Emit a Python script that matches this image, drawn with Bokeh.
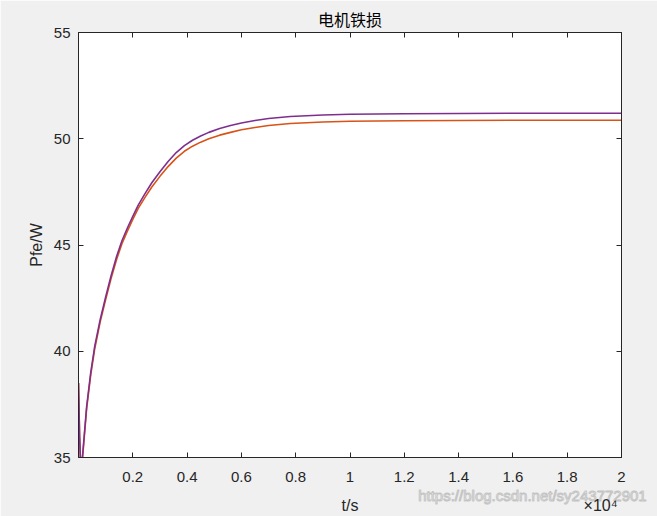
from bokeh.plotting import figure
from bokeh.models import LinearAxis, Range1d, FixedTicker
from bokeh.embed import file_html
from bokeh.resources import INLINE

# ---- data ----
t_s = [0, 40, 80, 144, 300, 450, 600, 800, 1000, 1200, 1400, 1600, 1800,
       2000, 2200, 2450, 2700, 3000, 3300, 3600, 3900, 4200, 4500, 4800,
       5200, 5600, 6000, 6500, 7000, 7800, 9000, 10000, 12000, 14000, 16000,
       18000, 20000]
pfe_purple = [38.5, 36.0, 34.6, 35.0, 37.4, 39.0, 40.25, 41.5, 42.55, 43.55,
              44.45, 45.2, 45.8, 46.35, 46.88, 47.42, 47.93, 48.45, 48.93,
              49.35, 49.68, 49.93, 50.13, 50.3, 50.48, 50.62, 50.74, 50.86,
              50.95, 51.05, 51.12, 51.15, 51.18, 51.19, 51.2, 51.2, 51.2]
pfe_orange = [38.5, 36.0, 34.6, 34.9, 37.3, 38.88, 40.13, 41.38, 42.43,
              43.42, 44.31, 45.06, 45.65, 46.2, 46.72, 47.24, 47.73, 48.23,
              48.69, 49.09, 49.41, 49.65, 49.84, 50.0, 50.17, 50.3, 50.42,
              50.53, 50.62, 50.72, 50.79, 50.82, 50.85, 50.86, 50.87, 50.87,
              50.87]
x_ticks = [2000, 4000, 6000, 8000, 10000, 12000, 14000, 16000, 18000, 20000]
x_tick_labels = ["0.2", "0.4", "0.6", "0.8", "1", "1.2", "1.4", "1.6", "1.8", "2"]
y_ticks = [35, 40, 45, 50, 55]
x_title = "t/s"
x_exponent = "×10⁴"
watermark = "https://blog.csdn.net/sy243772901"

FONT = "Liberation Sans"
AX = "#262626"

p = figure(width=657, height=516, output_backend="svg", toolbar_location=None,
           x_range=Range1d(0, 20000), y_range=Range1d(35, 55),
           min_border_left=78, min_border_right=36, min_border_top=32,
           min_border_bottom=56, x_axis_location=None, y_axis_location=None)
p.border_fill_color = "#f0f0f0"
p.background_fill_color = "white"
p.outline_line_color = AX
p.outline_line_width = 1
p.xgrid.visible = False
p.ygrid.visible = False

p.title.text = "电机铁损"
p.title.align = "center"
p.title.text_font = "Noto Sans CJK SC"
p.title.text_font_style = "normal"
p.title.text_font_size = "16px"
p.title.text_color = "#000000"
p.title.offset = 0
p.title.standoff = 4


def style_axis(ax, labels=True):
    ax.axis_line_color = AX
    ax.major_tick_line_color = AX
    ax.major_tick_in = 5
    ax.major_tick_out = 0
    ax.minor_tick_line_color = None
    if labels:
        ax.major_label_text_font = FONT
        ax.major_label_text_font_size = "15px"
        ax.major_label_text_color = AX
    else:
        ax.major_label_text_color = None
        ax.major_label_text_font_size = "1px"


def text_axis(ticks, labels, size, color, standoff, outline=None):
    ax = LinearAxis(ticker=FixedTicker(ticks=ticks),
                    major_label_overrides={t: l for t, l in zip(ticks, labels)})
    ax.axis_line_color = None
    ax.major_tick_line_color = None
    ax.minor_tick_line_color = None
    ax.major_tick_in = 0
    ax.major_tick_out = 0
    ax.major_label_text_font = FONT
    ax.major_label_text_font_size = size
    ax.major_label_text_color = color
    if outline:
        ax.major_label_text_outline_color = outline
    ax.major_label_standoff = standoff
    return ax


# main x axis: ticks and tick labels
xb = LinearAxis(ticker=FixedTicker(ticks=x_ticks),
                major_label_overrides={t: l for t, l in zip(x_ticks, x_tick_labels)})
style_axis(xb)
xb.major_label_standoff = 14
p.add_layout(xb, "below")

# watermark row
p.add_layout(text_axis([16720], [watermark], "15px", "#ffffff", 2,
                       outline="#c4c4c4"), "below")
# axis title and exponent row
p.add_layout(text_axis([10000, 19230], [x_title, x_exponent], "16px", AX, -10),
             "below")

yl = LinearAxis(ticker=FixedTicker(ticks=y_ticks))
style_axis(yl)
yl.major_label_standoff = 8
yl.axis_label = "Pfe/W"
yl.axis_label_text_font = FONT
yl.axis_label_text_font_style = "normal"
yl.axis_label_text_font_size = "16px"
yl.axis_label_text_color = AX
yl.axis_label_standoff = 6
p.add_layout(yl, "left")

xt = LinearAxis(ticker=FixedTicker(ticks=x_ticks))
style_axis(xt, labels=False)
p.add_layout(xt, "above")
yr = LinearAxis(ticker=FixedTicker(ticks=y_ticks))
style_axis(yr, labels=False)
p.add_layout(yr, "right")

p.line(t_s, pfe_orange, line_color="#D95319", line_width=1.6)
p.line(t_s, pfe_purple, line_color="#7E2F8E", line_width=1.6)

html = file_html(p, INLINE)
html = html.replace("<body>", '<body style="background:#f0f0f0">', 1)
open("out.html", "w").write(html)
